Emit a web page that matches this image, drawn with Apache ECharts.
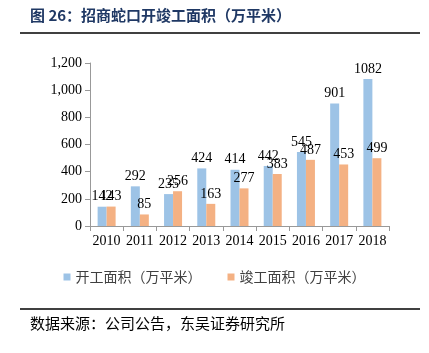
<!DOCTYPE html>
<html>
<head>
<meta charset="utf-8">
<script src="https://cdn.jsdelivr.net/npm/echarts@6/dist/echarts.min.js"></script>
<style>
  html, body { margin: 0; padding: 0; background: #fff; }
  #chart { width: 429px; height: 353px; }
</style>
</head>
<body>
<div id="chart"></div>
<script>
// years
var years = ['2010', '2011', '2012', '2013', '2014', '2015', '2016', '2017', '2018'];
// 开工面积 (万平米)
var startArea = [142, 292, 235, 424, 414, 442, 545, 901, 1082];
// 竣工面积 (万平米)
var doneArea = [143, 85, 256, 163, 277, 383, 487, 453, 499];

var serif = '"Liberation Serif", "Times New Roman", serif';
var cjk = '"Noto Sans CJK SC", sans-serif';

var chart = echarts.init(document.getElementById('chart'));

var labelStyle = {
  show: true,
  position: 'top',
  distance: 3,
  fontFamily: serif,
  fontSize: 14,
  color: '#000'
};

chart.setOption({
  backgroundColor: '#fff',
  animation: false,
  graphic: [
    {
      type: 'text', left: 30, top: 8,
      style: { text: '图 26：招商蛇口开竣工面积（万平米）', font: 'bold 15px ' + cjk, fill: '#1F3864' }
    },
    {
      type: 'line', shape: { x1: 20, y1: 33, x2: 420, y2: 33 },
      style: { stroke: '#000', lineWidth: 1.5 }
    },
    {
      type: 'line', shape: { x1: 20, y1: 309, x2: 420, y2: 309 },
      style: { stroke: '#000', lineWidth: 1.5 }
    },
    {
      type: 'text', left: 30, top: 316,
      style: { text: '数据来源：公司公告，东吴证券研究所', font: '15px ' + cjk, fill: '#000' }
    }
  ],
  legend: {
    top: 265,
    left: 'center',
    itemWidth: 7,
    itemHeight: 7,
    itemGap: 26,
    icon: 'rect',
    textStyle: { fontFamily: cjk, fontSize: 14, color: '#404040' },
    data: ['开工面积（万平米）', '竣工面积（万平米）']
  },
  grid: { left: 90, right: 40, top: 63, bottom: 127 },
  xAxis: {
    type: 'category',
    data: years,
    axisLine: { lineStyle: { color: '#999' } },
    axisTick: { show: true, length: 5, lineStyle: { color: '#999' } },
    axisLabel: { fontFamily: serif, fontSize: 14, color: '#000', margin: 8, interval: 0, hideOverlap: false }
  },
  yAxis: {
    type: 'value',
    min: 0,
    max: 1200,
    interval: 200,
    axisLine: { show: true, lineStyle: { color: '#999' } },
    axisTick: { show: true, length: 5, lineStyle: { color: '#999' } },
    splitLine: { show: false },
    axisLabel: {
      fontFamily: serif, fontSize: 14, color: '#000', margin: 8,
      formatter: function (v) { return v.toLocaleString('en-US'); }
    }
  },
  series: [
    {
      name: '开工面积（万平米）',
      type: 'bar',
      data: startArea,
      barWidth: 9,
      barGap: '0%',
      itemStyle: { color: '#9DC3E6' },
      label: labelStyle
    },
    {
      name: '竣工面积（万平米）',
      type: 'bar',
      data: doneArea,
      barWidth: 9,
      itemStyle: { color: '#F4B183' },
      label: labelStyle
    }
  ]
});
</script>
</body>
</html>
